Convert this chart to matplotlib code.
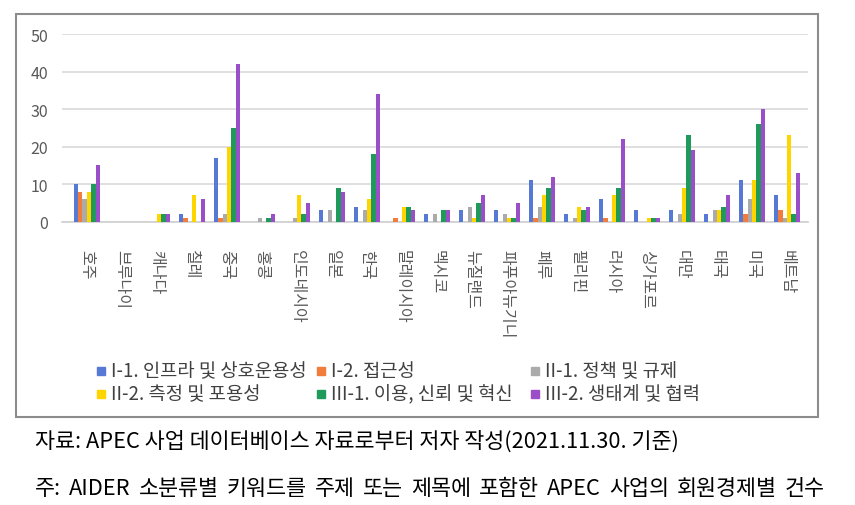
import numpy as np
import matplotlib.pyplot as plt
from matplotlib.patches import Rectangle

plt.rcParams['font.family'] = ['Noto Sans CJK KR', 'DejaVu Sans']

# APEC member economies
economies = ['호주', '브루나이', '캐나다', '칠레', '중국', '홍콩', '인도네시아', '일본', '한국',
             '말레이시아', '멕시코', '뉴질랜드', '파푸아뉴기니', '페루', '필리핀', '러시아',
             '싱가포르', '대만', '태국', '미국', '베트남']

series_names = ['I-1. 인프라 및 상호운용성', 'I-2. 접근성', 'II-1. 정책 및 규제',
                'II-2. 측정 및 포용성', 'III-1. 이용, 신뢰 및 혁신', 'III-2. 생태계 및 협력']

infra = [10, 0, 0, 2, 17, 0, 0, 3, 4, 0, 2, 3, 3, 11, 2, 6, 3, 3, 2, 11, 7]
access = [8, 0, 0, 1, 1, 0, 0, 0, 0, 1, 0, 0, 0, 1, 0, 1, 0, 0, 0, 2, 3]
policy = [6, 0, 0, 0, 2, 1, 1, 3, 3, 0, 2, 4, 2, 4, 1, 0, 0, 2, 3, 6, 1]
measure = [8, 0, 2, 7, 20, 0, 7, 0, 6, 4, 0, 1, 1, 7, 4, 7, 1, 9, 3, 11, 23]
usage = [10, 0, 2, 0, 25, 1, 2, 9, 18, 4, 3, 5, 1, 9, 3, 9, 1, 23, 4, 26, 2]
ecosys = [15, 0, 2, 6, 42, 2, 5, 8, 34, 3, 3, 7, 5, 12, 4, 22, 1, 19, 7, 30, 13]

colors = ['#5679D6', '#F07D3C', '#ABABAB', '#FFD500', '#1F9A5B', '#9A4EC8']

source_note = '자료: APEC 사업 데이터베이스 자료로부터 저자 작성(2021.11.30. 기준)'
footnote = '주: AIDER 소분류별 키워드를 주제 또는 제목에 포함한 APEC 사업의 회원경제별 건수'

W, H = 855, 506
fig = plt.figure(figsize=(W / 100, H / 100), dpi=100)
ax = fig.add_axes([62 / W, 1 - 222.7 / H, (808 - 62) / W, (222.7 - 35) / H])

x = np.arange(len(economies))
width = 0.125
all_series = [infra, access, policy, measure, usage, ecosys]
for i, vals in enumerate(all_series):
    ax.bar(x + (i - 2.5) * width, vals, width, color=colors[i], zorder=3)

ax.set_ylim(0, 50)
ax.set_xlim(-0.71, 20.6)
ax.set_yticks(range(0, 51, 10))
ax.yaxis.grid(True, color='#D9D9D9', linewidth=1.2, zorder=0)
for s in ['top', 'right', 'left']:
    ax.spines[s].set_visible(False)
ax.spines['bottom'].set_color('#D0D0D0')
ax.spines['bottom'].set_linewidth(1.2)
ax.tick_params(axis='both', length=0, colors='#595959', labelsize=11.5)
ax.tick_params(axis='y', pad=10)
ax.set_xticks(x)
ax.set_xticklabels(economies, rotation=-90, va='top', ha='center', fontsize=11.5)
ax.tick_params(axis='x', pad=20)

# legend, drawn by hand to keep column positions
col_x = [101, 321, 535]
row_y = [372, 395]
for i, name in enumerate(series_names):
    cx = col_x[i % 3]
    cy = row_y[i // 3]
    fig.patches.append(Rectangle(((cx - 4) / W, 1 - (cy + 4) / H), 8 / W, 8 / H,
                                 transform=fig.transFigure, color=colors[i]))
    fig.text((cx + 10) / W, 1 - cy / H, name, fontsize=13.5, color='#404040',
             va='center', ha='left')

# outer frame
fig.patches.append(Rectangle((16 / W, 1 - 418 / H), (818 - 16) / W, (418 - 15) / H,
                             transform=fig.transFigure, fill=False, edgecolor='#8C8C8C',
                             linewidth=1.5))

fig.text(35 / W, 1 - 442 / H, source_note, fontsize=15.7, va='center', ha='left')

# second note is justified to the frame width
fig.canvas.draw()
renderer = fig.canvas.get_renderer()
words = footnote.split(' ')
pieces = [fig.text(0, 1 - 489 / H, w, fontsize=15.7, va='center', ha='left') for w in words]
widths = [p.get_window_extent(renderer).width for p in pieces]
left, right = 35, 825
gap = (right - left - sum(widths)) / (len(words) - 1)
pos = left
for p, w in zip(pieces, widths):
    p.set_x(pos / W)
    pos += w + gap

fig.savefig('out.png', dpi=100)
